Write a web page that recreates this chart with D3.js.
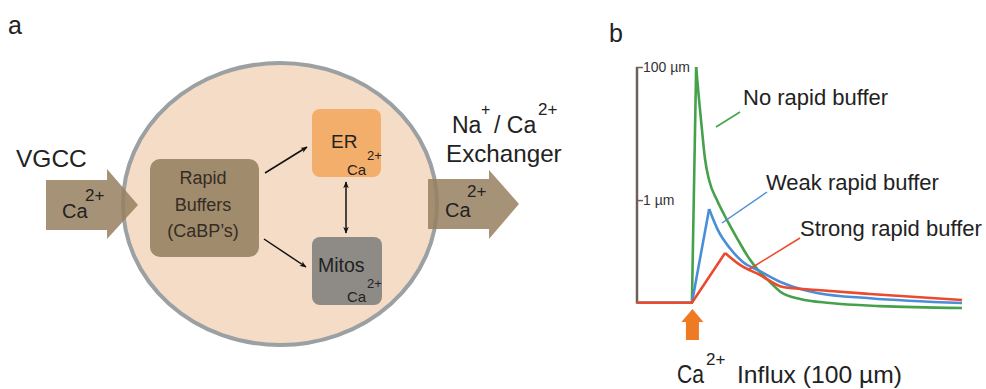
<!DOCTYPE html>
<html>
<head>
<meta charset="utf-8">
<script src="https://cdn.jsdelivr.net/npm/d3@7"></script>
<style>
  body { margin: 0; background: #fff; }
  svg { font-family: Arial, "Liberation Sans", sans-serif; }
</style>
</head>
<body>
<div class="data"></div>
<script>
// canvas size
const width = 986;
const height = 389;

// panel b data: time (% of trace) and [Ca2+] in µm
var noBufT   = [0, 16.9, 18.2, 19.1, 20.0, 20.9, 22.2, 24.6, 27.7, 30.8, 34.2, 37.8, 40.9, 44.3, 50.2, 59.4, 74.8, 100];
var noBufV   = [0.005, 0.005, 100, 32, 11.4, 4.3, 2.0, 1.0, 0.49, 0.25, 0.12, 0.061, 0.036, 0.018, 0.0091, 0.0047, 0.0017, 0];
var weakT    = [0, 16.9, 22.2, 24.9, 28.6, 32.6, 37.8, 44.9, 55.4, 71.7, 100];
var weakV    = [0.005, 0.005, 0.73, 0.34, 0.17, 0.097, 0.064, 0.034, 0.017, 0.010, 0.0047];
var strongT  = [0, 16.9, 27.1, 31.7, 37.8, 44.9, 55.4, 71.7, 100];
var strongV  = [0.005, 0.005, 0.141, 0.085, 0.053, 0.0265, 0.0214, 0.0155, 0.0079];
var seriesNames = ["No rapid buffer", "Weak rapid buffer", "Strong rapid buffer"];
var tickVals = [1, 100];
var tickLabels = ["1 µm", "100 µm"];

var svg = d3.select(".data")
  .append("svg")
    .attr("width", width)
    .attr("height", height);

// arrow markers
var defs = svg.append("defs");
defs.append("marker")
    .attr("id", "head")
    .attr("viewBox", "0 0 10 10")
    .attr("refX", 9).attr("refY", 5)
    .attr("markerWidth", 7).attr("markerHeight", 7)
    .attr("markerUnits", "userSpaceOnUse")
    .attr("orient", "auto-start-reverse")
  .append("path")
    .attr("d", "M0,1 L10,5 L0,9 L3,5 Z")
    .attr("fill", "#111");

function txt(g, x, y, s, size, anchor) {
  return g.append("text")
    .attr("x", x).attr("y", y)
    .attr("font-size", size)
    .attr("fill", "#222")
    .attr("text-anchor", anchor || "start")
    .text(s);
}

// ---------------- panel a ----------------
var a = svg.append("g");
txt(a, 8, 34, "a", 25);

// the cell
a.append("ellipse")
  .attr("cx", 280).attr("cy", 204)
  .attr("rx", 157).attr("ry", 141)
  .attr("fill", "#f5dcc6")
  .attr("stroke", "#9ba0a3")
  .attr("stroke-width", 4);

// big block arrows
function blockArrow(g, x0, x1, x2, yTop, yBot, hTop, hBot) {
  var yc = (yTop + yBot) / 2;
  g.append("path")
    .attr("d", "M" + x0 + "," + yTop + " L" + x1 + "," + yTop + " L" + x1 + "," + hTop +
               " L" + x2 + "," + yc + " L" + x1 + "," + hBot + " L" + x1 + "," + yBot +
               " L" + x0 + "," + yBot + " Z")
    .attr("fill", "#96805f")
    .attr("fill-opacity", 0.85);
}
blockArrow(a, 46, 107, 138, 180, 230, 169, 239);
blockArrow(a, 428, 489, 519, 179, 229, 170, 239);

txt(a, 16, 167, "VGCC", 24.5);
txt(a, 62, 218, "Ca", 20);
txt(a, 85, 201, "2+", 17);
txt(a, 445, 217, "Ca", 20);
txt(a, 467, 197, "2+", 17);

// Na+/Ca2+ exchanger label
txt(a, 452, 133, "Na", 23);
txt(a, 481, 115, "+", 16);
txt(a, 494, 133, "/ Ca", 23);
txt(a, 538, 115, "2+", 17);
txt(a, 446, 162, "Exchanger", 24.2);

// inner boxes
a.append("rect")
  .attr("x", 150).attr("y", 159).attr("width", 109).attr("height", 98)
  .attr("rx", 10).attr("fill", "#a08b6c");
a.append("rect")
  .attr("x", 312).attr("y", 109).attr("width", 69).attr("height", 68)
  .attr("rx", 8).attr("fill", "#f4ae6b");
a.append("rect")
  .attr("x", 312).attr("y", 237).attr("width", 70).attr("height", 68)
  .attr("rx", 8).attr("fill", "#8e8a86");

txt(a, 203, 184, "Rapid", 18, "middle").attr("fill", "#352c24");
txt(a, 203, 211, "Buffers", 18, "middle").attr("fill", "#352c24");
txt(a, 203, 237, "(CaBP\u2019s)", 18, "middle").attr("fill", "#352c24");

txt(a, 331, 148, "ER", 19);
txt(a, 347, 175, "Ca", 15);
txt(a, 367, 160, "2+", 13);
txt(a, 318, 272, "Mitos", 19.5);
txt(a, 347, 302, "Ca", 15);
txt(a, 367, 288, "2+", 13);

// small arrows
a.append("line")
  .attr("x1", 265).attr("y1", 173).attr("x2", 307).attr("y2", 147)
  .attr("stroke", "#111").attr("stroke-width", 1.5)
  .attr("marker-end", "url(#head)");
a.append("line")
  .attr("x1", 264).attr("y1", 239).attr("x2", 306).attr("y2", 267)
  .attr("stroke", "#111").attr("stroke-width", 1.5)
  .attr("marker-end", "url(#head)");
a.append("line")
  .attr("x1", 346).attr("y1", 182).attr("x2", 346).attr("y2", 233)
  .attr("stroke", "#111").attr("stroke-width", 1.5)
  .attr("marker-start", "url(#head)")
  .attr("marker-end", "url(#head)");

// ---------------- panel b ----------------
var b = svg.append("g");
txt(b, 609, 42, "b", 25);

var x = d3.scaleLinear()
  .domain([0, 100])
  .range([637, 962]);

// log-like scale so 1 µm and 100 µm both fit
var y = d3.scaleSymlog()
  .constant(0.025)
  .domain([0, 100])
  .range([308, 67]);

var yAxis = b.append("g")
  .attr("transform", "translate(" + x(0) + ",0)")
  .call(d3.axisRight(y)
    .tickValues(tickVals)
    .tickSize(6)
    .tickSizeOuter(0)
    .tickPadding(0)
    .tickFormat(function(d, i) { return tickLabels[i]; }));
yAxis.select(".domain").attr("stroke", "#6e6058").attr("stroke-width", 2.5)
  .attr("d", "M0," + y(100) + "V" + y(0.004));
yAxis.selectAll(".tick line").attr("stroke", "#6e6058").attr("stroke-width", 1.5)
  .attr("x1", -1);
yAxis.selectAll(".tick text")
  .attr("font-size", 14)
  .attr("font-family", "Arial, 'Liberation Sans', sans-serif")
  .attr("fill", "#333");

var series = [
  {name: seriesNames[0], t: noBufT, v: noBufV, color: "#45a24b"},
  {name: seriesNames[1], t: weakT, v: weakV, color: "#4a8ed8"},
  {name: seriesNames[2], t: strongT, v: strongV, color: "#ec4a2c"}
];

var riseLine = d3.line()
  .x(function(d) { return x(d[0]); })
  .y(function(d) { return y(d[1]); });
var decayLine = d3.line()
  .x(function(d) { return x(d[0]); })
  .y(function(d) { return y(d[1]); })
  .curve(d3.curveMonotoneX);

series.forEach(function(s) {
  var pts = d3.zip(s.t, s.v);
  var peak = d3.maxIndex(s.v);
  b.append("path")
    .attr("d", riseLine(pts.slice(0, peak + 1)))
    .attr("fill", "none")
    .attr("stroke", s.color)
    .attr("stroke-width", 2.6)
    .attr("stroke-linejoin", "round");
  b.append("path")
    .attr("d", decayLine(pts.slice(peak)))
    .attr("fill", "none")
    .attr("stroke", s.color)
    .attr("stroke-width", 2.6)
    .attr("stroke-linejoin", "round");
});

// labels with leader lines
var labels = [
  {lx1: 716, ly1: 127, lx2: 740, ly2: 112, tx: 743, ty: 105},
  {lx1: 722, ly1: 223, lx2: 767, ly2: 192, tx: 766, ty: 190},
  {lx1: 748, ly1: 270, lx2: 800, ly2: 238, tx: 800, ty: 236}
];
labels.forEach(function(l, i) {
  b.append("line")
    .attr("x1", l.lx1).attr("y1", l.ly1).attr("x2", l.lx2).attr("y2", l.ly2)
    .attr("stroke", series[i].color).attr("stroke-width", 1.5);
  txt(b, l.tx, l.ty, series[i].name, 22);
});

// influx arrow
var ax = x(16.9) + 0.5;
b.append("path")
  .attr("d", "M" + (ax - 11) + ",322 L" + ax + ",309 L" + (ax + 11) + ",322 L" +
             (ax + 6.5) + ",322 L" + (ax + 6.5) + ",340 L" + (ax - 6.5) + ",340 L" +
             (ax - 6.5) + ",322 Z")
  .attr("fill", "#ee7a24");

txt(b, 677, 383, "Ca", 25)
  .attr("textLength", 27)
  .attr("lengthAdjust", "spacingAndGlyphs");
txt(b, 706, 365, "2+", 17);
txt(b, 737, 383, "Influx (100 µm)", 24)
  .attr("textLength", 165)
  .attr("lengthAdjust", "spacingAndGlyphs");
</script>
</body>
</html>
